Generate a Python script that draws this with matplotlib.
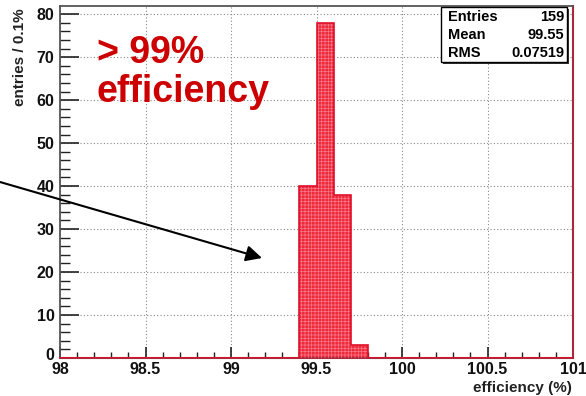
import matplotlib.pyplot as plt
from matplotlib.patches import Rectangle
from matplotlib.ticker import MultipleLocator
from matplotlib.transforms import ScaledTranslation

# histogram: 30 bins of 0.1% between 98 and 101
bin_edges = [98.0 + 0.1 * i for i in range(31)]
counts = [0] * 14 + [40, 78, 38, 3] + [0] * 12

x_ticks = [98, 98.5, 99, 99.5, 100, 100.5, 101]
x_tick_labels = ['98', '98.5', '99', '99.5', '100', '100.5', '101']
y_ticks = [0, 10, 20, 30, 40, 50, 60, 70, 80]

stat_names = ['Entries', 'Mean', 'RMS']
stat_values = ['159', '99.55', '0.07519']

plt.rcParams['font.family'] = ['Liberation Sans', 'DejaVu Sans']
plt.rcParams['hatch.linewidth'] = 0.5

W, H = 586, 396
fig = plt.figure(figsize=(W / 100, H / 100), dpi=100)


def fx(px):
    return px / W


def fy(py):
    return 1 - py / H


ax = fig.add_axes([fx(60), fy(358), fx(573) - fx(60), fy(6) - fy(358)])

# filled histogram with a faint cross pattern
ax.stairs(counts, bin_edges, fill=True, facecolor='#ee2a3a', edgecolor='none', zorder=2)
ax.stairs(counts, bin_edges, fill=True, facecolor='none', edgecolor='#f8788a',
          hatch='+++++', linewidth=0, zorder=3)
ax.stairs(counts, bin_edges, fill=False, color='#e0102a', linewidth=1.2, zorder=4)

ax.set_xlim(98, 101)
ax.set_ylim(0, 81.9)
ax.set_xticks(x_ticks)
ax.set_xticklabels(x_tick_labels)
ax.set_yticks(y_ticks)
ax.xaxis.set_minor_locator(MultipleLocator(0.1))
ax.yaxis.set_minor_locator(MultipleLocator(2))
ax.tick_params(axis='both', which='both', direction='in', labelsize=11.5, colors='#222222')
ax.tick_params(axis='y', which='major', length=14, width=1.2, pad=4)
ax.tick_params(axis='y', which='minor', length=7, width=1.0)
ax.tick_params(axis='x', which='major', length=8, width=1.2, pad=3)
ax.tick_params(axis='x', which='minor', length=4, width=1.0)
for lab in ax.get_xticklabels() + ax.get_yticklabels():
    lab.set_fontweight('bold')
    lab.set_color('#111111')
# ROOT lifts the zero label a little above the x labels
zero_lab = ax.get_yticklabels()[0]
zero_lab.set_transform(zero_lab.get_transform() + ScaledTranslation(0, 4 / 100, fig.dpi_scale_trans))

ax.grid(True, which='major', linestyle=(0, (1, 2)), color='#888888', linewidth=0.8, zorder=1)
ax.set_axisbelow(True)

for side in ['left', 'top']:
    ax.spines[side].set_color('#555555')
    ax.spines[side].set_linewidth(1.3)
for side in ['bottom', 'right']:
    ax.spines[side].set_color('#a8283c')
    ax.spines[side].set_linewidth(1.5)

# axis titles
fig.text(fx(20), fy(8), 'entries / 0.1%', rotation=90, ha='center', va='top',
         fontsize=11, fontweight='bold', color='#222222')
fig.text(fx(572), fy(395), 'efficiency (%)', ha='right', va='bottom',
         fontsize=11, fontweight='bold', color='#222222')

# statistics box
fig.patches.append(Rectangle((fx(443), fy(64)), fx(567) - fx(441), fy(7) - fy(62),
                             transform=fig.transFigure, facecolor='#333333',
                             edgecolor='none', zorder=5))
fig.patches.append(Rectangle((fx(441), fy(62)), fx(567) - fx(441), fy(7) - fy(62),
                             transform=fig.transFigure, facecolor='white',
                             edgecolor='black', linewidth=1.0, zorder=6))
for i, (name, val) in enumerate(zip(stat_names, stat_values)):
    yy = fy(17 + 18 * i)
    fig.text(fx(448), yy, name, ha='left', va='center', fontsize=10.5,
             fontweight='bold', zorder=7)
    fig.text(fx(564), yy, val, ha='right', va='center', fontsize=10.5,
             fontweight='bold', zorder=7)

# annotation
fig.text(fx(97), fy(35), '> 99%\nefficiency', ha='left', va='top', fontsize=27,
         fontweight='bold', color='#cc0000', linespacing=1.12)
ax.annotate('', xy=(262, H - 258), xycoords='figure pixels',
            xytext=(0, H - 182), textcoords='figure pixels',
            arrowprops=dict(arrowstyle='-|>', color='black', lw=1.5,
                            mutation_scale=24, shrinkA=0, shrinkB=0),
            annotation_clip=False)

fig.savefig('out.png', dpi=100)
